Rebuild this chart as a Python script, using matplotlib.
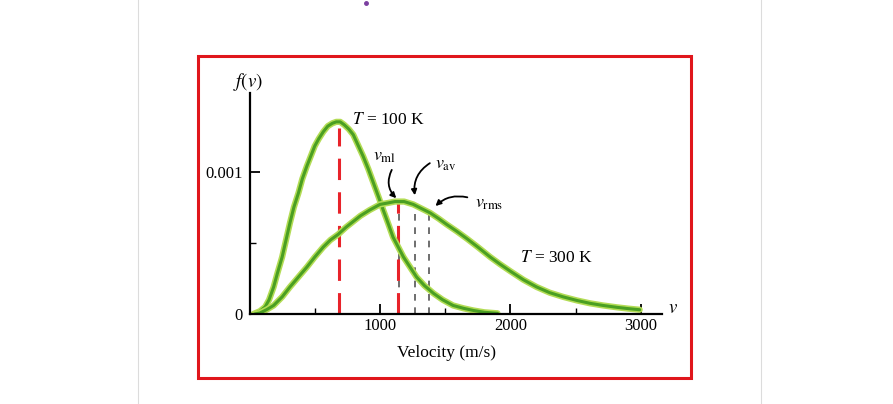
import matplotlib
matplotlib.use("Agg")
import matplotlib.pyplot as plt
from matplotlib.patches import Rectangle
from matplotlib.lines import Line2D

plt.rcParams['font.family'] = ['Liberation Serif', 'DejaVu Serif']
plt.rcParams['mathtext.fontset'] = 'stix'

# T = 100 K curve
v100 = [30, 80, 120, 150, 185, 215, 250, 280, 310, 340, 375, 405, 440, 470,
        500, 530, 565, 600, 635, 665, 695, 725, 760, 795, 830, 870, 910, 950,
        990, 1025, 1065, 1100, 1140, 1180, 1230, 1280, 1340, 1410, 1480, 1560,
        1640, 1715, 1800, 1900]
f100 = [0.0, 0.00002, 0.00005, 0.0001, 0.00019, 0.00029, 0.0004, 0.00052,
        0.00064, 0.00075, 0.00085, 0.00095, 0.00104, 0.00111, 0.00118, 0.00123,
        0.00128, 0.00132, 0.00134, 0.00135, 0.00135, 0.00133, 0.0013, 0.00126,
        0.00119, 0.00111, 0.00102, 0.00092, 0.00082, 0.00073, 0.00063, 0.00054,
        0.00047, 0.0004, 0.00033, 0.00026, 0.0002, 0.000145, 0.0001, 0.00006,
        0.00004, 0.000025, 0.000012, 0.000005]

# T = 300 K curve
v300 = [40, 80, 130, 185, 250, 310, 375, 440, 500, 565, 620, 680, 740, 795,
        850, 920, 1000, 1060, 1115, 1185, 1255, 1320, 1385, 1450, 1510, 1590,
        1665, 1750, 1845, 1920, 2000, 2100, 2200, 2300, 2405, 2510, 2610, 2710,
        2815, 2900, 2990]
f300 = [0.0, 0.000007, 0.00003, 0.00006, 0.00012, 0.00019, 0.00026, 0.00033,
        0.0004, 0.00047, 0.00052, 0.00056, 0.00061, 0.00065, 0.00069, 0.00073,
        0.00077, 0.00078, 0.00079, 0.00079, 0.00077, 0.00074, 0.00071, 0.00067,
        0.00063, 0.00058, 0.00053, 0.00047, 0.0004, 0.00035, 0.0003, 0.00024,
        0.00019, 0.00015, 0.00012, 0.000095, 0.000075, 0.00006, 0.000047,
        0.000038, 0.00003]

# marked speeds
red_v = [686, 1135]
red_top = [0.00131, 0.00079]
gray_v = [1148, 1270, 1376]
gray_top = [0.00079, 0.00077, 0.000717]

xticks_major = [1000, 2000, 3000]
xticks_minor = [500, 1500, 2500]

W, H = 893, 404
fig = plt.figure(figsize=(W / 100, H / 100), dpi=100)

# page frame lines and red box
fig.add_artist(Line2D([137.5 / W] * 2, [0, 1], color='#dcdcdc', lw=0.8))
fig.add_artist(Line2D([761 / W] * 2, [0, 1], color='#dcdcdc', lw=0.8))
fig.add_artist(Rectangle((198 / W, (H - 378) / H), 493 / W, 322 / H,
                         fill=False, ec='#e0161c', lw=2.2))
fig.add_artist(Line2D([366 / W], [1 - 3 / H], marker='o', ms=2.5,
                      color='#7b3fa0', lw=0))

ax = fig.add_axes([249.5 / W, 90 / H, 412.5 / W, 220.6 / H])
ax.set_xlim(0, 3161)
ax.set_ylim(0, 0.00155)
ax.patch.set_alpha(0)

for s in ['top', 'right']:
    ax.spines[s].set_visible(False)
for s in ['left', 'bottom']:
    ax.spines[s].set_linewidth(1.6)

ax.set_xticks(xticks_major)
ax.set_xticklabels([str(t) for t in xticks_major])
ax.set_xticks(xticks_minor, minor=True)
ax.set_yticks([0, 0.001])
ax.set_yticklabels(['0', '0.001'])
ax.set_yticks([0.0005], minor=True)
ax.tick_params(which='major', direction='in', length=7, width=1.3,
               labelsize=12, pad=3)
ax.tick_params(which='minor', direction='in', length=4, width=1.0)
ax.tick_params(axis='y', which='major', pad=5)

# dashed markers
for v, t in zip(gray_v, gray_top):
    ax.plot([v, v], [0, t], color='#555555', lw=1.2, ls=(0, (4, 4)))
for v, t in zip(red_v, red_top):
    ax.plot([v, v], [0, t], color='#e8232a', lw=2.2, ls=(0, (7, 4)))

# curves
for vs, fs in [(v100, f100), (v300, f300)]:
    ax.plot(vs, fs, color='#b3dc55', lw=4.5, solid_capstyle='round',
            solid_joinstyle='round')
    ax.plot(vs, fs, color='#4a9f22', lw=2.2, solid_capstyle='round',
            solid_joinstyle='round')

ax.text(783, 0.001363, r'$T$ = 100 K', fontsize=12.5, va='center')
ax.text(2073, 0.000391, r'$T$ = 300 K', fontsize=12.5, va='center')

ax.text(946, 0.001105, r'$v_{\rm ml}$', fontsize=13, va='center')
ax.text(1421, 0.00105, r'$v_{\rm av}$', fontsize=13, va='center')
ax.text(1728, 0.000773, r'$v_{\rm rms}$', fontsize=13, va='center')

arr = dict(arrowstyle='-|>', color='black', lw=1.3, mutation_scale=8)
ax.annotate('', xy=(1140, 0.0008), xytext=(1100, 0.00103),
            arrowprops=dict(arr, connectionstyle='arc3,rad=0.4'))
ax.annotate('', xy=(1270, 0.000815), xytext=(1400, 0.00107),
            arrowprops=dict(arr, connectionstyle='arc3,rad=0.35'))
ax.annotate('', xy=(1410, 0.000745), xytext=(1690, 0.000815),
            arrowprops=dict(arr, connectionstyle='arc3,rad=0.3'))

ax.text(-11, 0.00163, r'$f(v)$', fontsize=13.5, ha='center', va='center',
        clip_on=False)
ax.text(3245, 0.00004, r'$v$', fontsize=13.5, ha='center', va='center',
        clip_on=False)

fig.text(446.7 / W, 1 - 353.3 / H, 'Velocity (m/s)', fontsize=12.5,
         ha='center', va='center')

fig.savefig('out.png', dpi=100, facecolor='white')
